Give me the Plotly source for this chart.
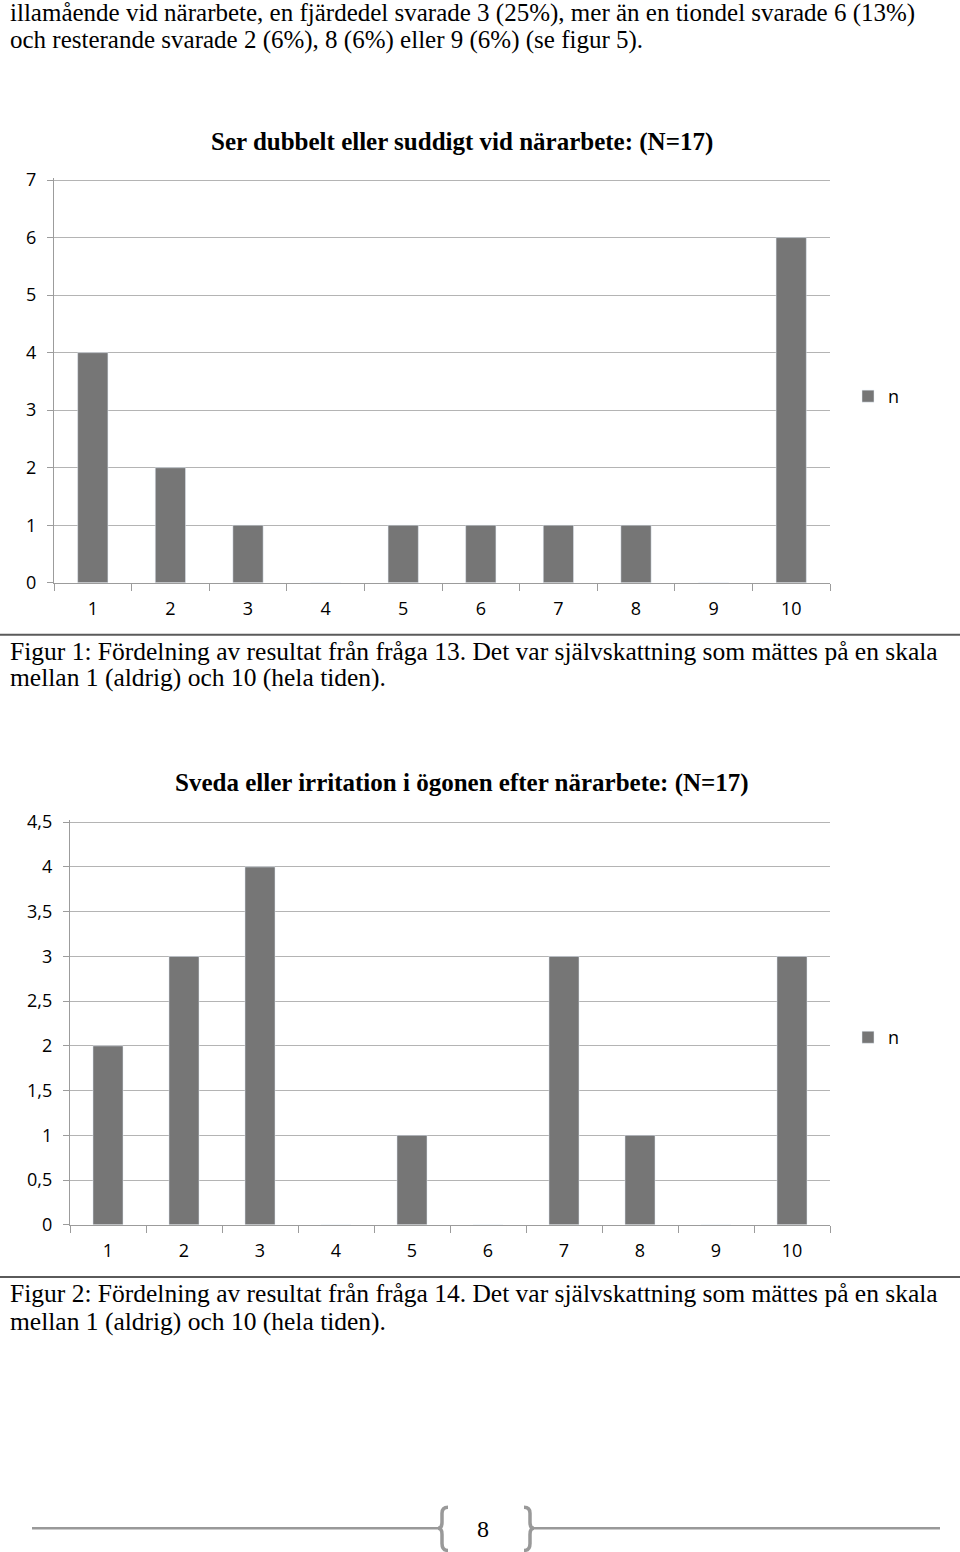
import plotly.graph_objects as go

W, H = 960, 1552

categories = ["1", "2", "3", "4", "5", "6", "7", "8", "9", "10"]
counts_q13 = [4, 2, 1, 0, 1, 1, 1, 1, 0, 6]
counts_q14 = [2, 3, 4, 0, 1, 0, 3, 1, 0, 3]

y1_ticks = [0, 1, 2, 3, 4, 5, 6, 7]
y1_labels = ["0", "1", "2", "3", "4", "5", "6", "7"]
y2_ticks = [0, 0.5, 1, 1.5, 2, 2.5, 3, 3.5, 4, 4.5]
y2_labels = ["0", "0,5", "1", "1,5", "2", "2,5", "3", "3,5", "4", "4,5"]

title1 = "Ser dubbelt eller suddigt vid närarbete: (N=17)"
title2 = "Sveda eller irritation i ögonen efter närarbete: (N=17)"
series_name = "n"

intro_lines = [
    "illamående vid närarbete, en fjärdedel svarade 3 (25%), mer än en tiondel svarade 6 (13%)",
    "och resterande svarade 2 (6%), 8 (6%) eller 9 (6%) (se figur 5).",
]
caption1 = [
    "Figur 1: Fördelning av resultat från fråga 13. Det var självskattning som mättes på en skala",
    "mellan 1 (aldrig) och 10 (hela tiden).",
]
caption2 = [
    "Figur 2: Fördelning av resultat från fråga 14. Det var självskattning som mättes på en skala",
    "mellan 1 (aldrig) och 10 (hela tiden).",
]
page_number = "8"

# vertical calibration (observed page rendering offset/scale)
OFF, SC = 11.2, 0.9848


def fx(p):
    return p / W


def fy(p):
    return 1 - ((p - OFF) / SC) / H


BAR = "#767676"
GRID = "#b4b4b4"
AXIS = "#9c9c9c"
SANS = "Open Sans, Lato, sans-serif"
SERIF = "Liberation Serif, Times New Roman, serif"

# chart 1 pixel geometry: y=0 at 583, y=7 at 181
Y1_TOP = 7.04
y1_px_per = (583 - 181) / 7
y1_top_px = 583 - Y1_TOP * y1_px_per
# chart 2: y=0 at 1224, y=4.5 at 822
Y2_TOP = 4.525
y2_px_per = (1224 - 822) / 4.5
y2_top_px = 1224 - Y2_TOP * y2_px_per

fig = go.Figure()
fig.add_trace(go.Bar(x=categories, y=counts_q13, name=series_name, marker_color=BAR,
                     width=0.39, xaxis="x", yaxis="y", legend="legend"))
fig.add_trace(go.Bar(x=categories, y=counts_q14, name=series_name, marker_color=BAR,
                     width=0.395, xaxis="x2", yaxis="y2", legend="legend2"))

xcommon = dict(type="category", showline=True, linecolor=AXIS, linewidth=1.3,
               ticks="outside", tickson="boundaries", ticklen=7, tickcolor=AXIS,
               tickfont=dict(family=SANS, size=18, color="#000"), showgrid=False,
               ticklabelstandoff=9, fixedrange=True)
ycommon = dict(showline=True, linecolor=AXIS, linewidth=1.3, ticks="outside",
               ticklen=6, tickcolor=AXIS, showgrid=True, gridcolor=GRID, gridwidth=1.3,
               zeroline=False, tickfont=dict(family=SANS, size=18, color="#000"),
               ticklabelstandoff=7, fixedrange=True)

fig.update_layout(
    width=W, height=H, margin=dict(l=0, r=0, t=0, b=0),
    paper_bgcolor="white", plot_bgcolor="white",
    xaxis=dict(domain=[fx(54), fx(830)], anchor="y", **xcommon),
    yaxis=dict(domain=[fy(583), fy(y1_top_px)], anchor="x", range=[0, Y1_TOP],
               tickvals=y1_ticks, ticktext=y1_labels, **ycommon),
    xaxis2=dict(domain=[fx(70), fx(830)], anchor="y2", **xcommon),
    yaxis2=dict(domain=[fy(1224), fy(y2_top_px)], anchor="x2", range=[0, Y2_TOP],
                tickvals=y2_ticks, ticktext=y2_labels, **ycommon),
    legend=dict(x=fx(848), y=fy(397), xanchor="left", yanchor="middle",
                font=dict(family=SANS, size=18, color="#000"), bgcolor="rgba(0,0,0,0)",
                itemwidth=30),
    legend2=dict(x=fx(848), y=fy(1037), xanchor="left", yanchor="middle",
                 font=dict(family=SANS, size=18, color="#000"), bgcolor="rgba(0,0,0,0)",
                 itemwidth=30),
    showlegend=True,
)

annotations = []


def add_text(text, x, y, size, family=SERIF, bold=False, xanchor="left", color="#000"):
    annotations.append(dict(
        text=text, x=fx(x), y=fy(y), xref="paper", yref="paper", showarrow=False,
        xanchor=xanchor, yanchor="middle",
        font=dict(family=family, size=size, color=color, weight="bold" if bold else "normal"),
    ))


add_text(intro_lines[0], 8, 14, 25)
add_text(intro_lines[1], 8, 41, 25)
add_text(title1, 462, 143, 25, bold=True, xanchor="center")
add_text(title2, 462, 783, 25, bold=True, xanchor="center")
add_text(caption1[0], 8, 652, 25.5)
add_text(caption1[1], 8, 678, 25.5)
add_text(caption2[0], 8, 1293, 25.5)
add_text(caption2[1], 8, 1320, 25.5)
add_text(page_number, 483, 1528, 24, xanchor="center")
fig.update_layout(annotations=annotations)

shapes = [
    dict(type="line", xref="paper", yref="paper", x0=0, x1=1, y0=fy(635), y1=fy(635),
         line=dict(color="#5a5a5a", width=2)),
    dict(type="line", xref="paper", yref="paper", x0=0, x1=1, y0=fy(1276), y1=fy(1276),
         line=dict(color="#5a5a5a", width=2)),
    dict(type="line", xref="paper", yref="paper", x0=fx(32), x1=fx(440), y0=fy(1527), y1=fy(1527),
         line=dict(color="#999", width=2.5)),
    dict(type="line", xref="paper", yref="paper", x0=fx(531), x1=fx(940), y0=fy(1527), y1=fy(1527),
         line=dict(color="#999", width=2.5)),
]
lb = (f"M {fx(448)} {fy(1506)} Q {fx(442)} {fy(1506)} {fx(442)} {fy(1512)} "
      f"L {fx(442)} {fy(1521)} Q {fx(442)} {fy(1527)} {fx(438)} {fy(1527)} "
      f"Q {fx(442)} {fy(1527)} {fx(442)} {fy(1533)} L {fx(442)} {fy(1542)} "
      f"Q {fx(442)} {fy(1549)} {fx(448)} {fy(1549)}")
rb = (f"M {fx(524)} {fy(1506)} Q {fx(530)} {fy(1506)} {fx(530)} {fy(1512)} "
      f"L {fx(530)} {fy(1521)} Q {fx(530)} {fy(1527)} {fx(534)} {fy(1527)} "
      f"Q {fx(530)} {fy(1527)} {fx(530)} {fy(1533)} L {fx(530)} {fy(1542)} "
      f"Q {fx(530)} {fy(1549)} {fx(524)} {fy(1549)}")
shapes.append(dict(type="path", xref="paper", yref="paper", path=lb, line=dict(color="#999", width=3.5)))
shapes.append(dict(type="path", xref="paper", yref="paper", path=rb, line=dict(color="#999", width=3.5)))
fig.update_layout(shapes=shapes)

fig.write_html("out.html")
